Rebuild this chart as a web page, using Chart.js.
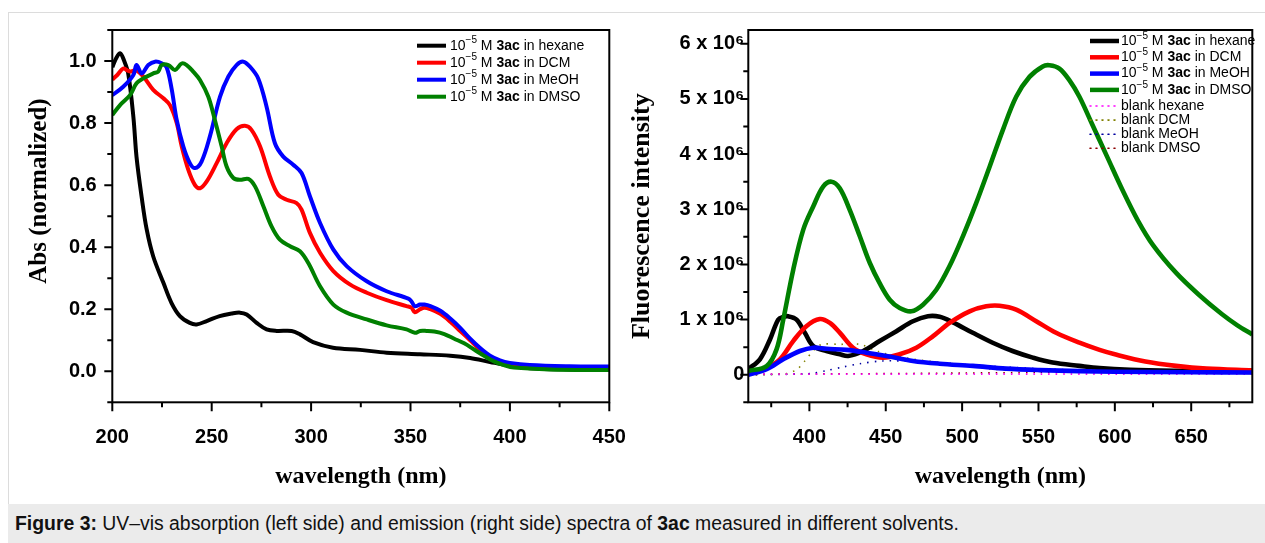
<!DOCTYPE html>
<html><head><meta charset="utf-8">
<script src="https://cdn.jsdelivr.net/npm/chart.js@4/dist/chart.umd.min.js"></script>
<style>
html,body{margin:0;padding:0;background:#fff;width:1265px;height:543px;overflow:hidden;font-family:"Liberation Sans",Arial,sans-serif;}
#frame{position:absolute;left:8px;top:12px;width:1270px;height:540px;border-left:1px solid #dcdcdc;border-top:1px solid #dcdcdc;}
#cap{position:absolute;left:8px;top:504px;width:1265px;height:39px;background:#ebebeb;}
#capText{position:absolute;left:15px;top:511px;font-size:19.4px;line-height:24px;color:#111;white-space:nowrap;font-family:"Liberation Sans",Arial,sans-serif;}
#cLeft{position:absolute;left:0;top:0;}
#cRight{position:absolute;left:620px;top:0;}
</style>
</head><body>
<div id="frame"></div>
<div id="cap"></div>
<div id="capText"><b>Figure 3:</b> UV–vis absorption (left side) and emission (right side) spectra of <b>3ac</b> measured in different solvents.</div>
<canvas id="cLeft" width="640" height="505"></canvas>
<canvas id="cRight" width="645" height="505"></canvas>
<script>
// ---------- data ----------
const solvents = ['hexane', 'DCM', 'MeOH', 'DMSO'];
const solventColors = ['#000000', '#ff0000', '#0000ff', '#008000'];
const blankColors = ['#ff00ff', '#808000', '#0000a0', '#8b0000'];

// Absorption (normalized)
const absWlHexane = [200,202,204,206,208,210.6,212.2,214.8,217.3,220.6,225.7,229.8,234,239,242.4,247.5,254,260,264.2,267.6,272.6,277.6,282.7,290.2,294.4,301,311,324.6,338,354.8,370,380,390,400,410,430,450];
const absHexane   = [0.98,1.01,1.025,1.0,0.96,0.82,0.69,0.56,0.457,0.37,0.285,0.22,0.178,0.156,0.151,0.162,0.178,0.186,0.189,0.183,0.156,0.135,0.13,0.13,0.119,0.094,0.076,0.069,0.06,0.055,0.05,0.043,0.03,0.018,0.01,0.006,0.005];

const absWlDCM = [200,202.5,205.5,207.5,209,212,215.6,220.6,225.7,229,232.4,234.9,238.2,241.6,244.1,247.5,252.5,257.5,262.5,266.7,270,274.3,279.3,283.5,287.7,292.7,295.2,299.4,304.5,311.2,319.5,328,338,348,350.5,352.2,354.8,357,360,365,370,375,380,385,390,395,400,410,430,450];
const absDCM   = [0.94,0.955,0.976,0.97,0.966,0.97,0.95,0.907,0.88,0.858,0.8,0.725,0.65,0.6,0.59,0.612,0.671,0.735,0.78,0.791,0.778,0.725,0.628,0.569,0.553,0.542,0.521,0.446,0.382,0.323,0.28,0.253,0.229,0.21,0.205,0.19,0.2,0.205,0.2,0.185,0.16,0.13,0.1,0.07,0.045,0.03,0.02,0.012,0.01,0.008];

const absWlMeOH = [200,205.5,210.6,212.2,214.8,218.1,221.5,224.8,227.3,229.8,232.4,235.7,239,241.6,244.9,249.1,254.2,258.4,262.5,265.9,269.2,273.4,277.6,281.8,286,291,295.2,299.4,304.5,311.2,317.9,328,338,348.9,350.5,352.2,354.8,357,360,365,370,375,380,385,390,395,400,410,430,450];
const absMeOH   = [0.89,0.917,0.955,0.987,0.96,0.987,0.998,0.993,0.98,0.912,0.81,0.725,0.671,0.655,0.676,0.757,0.885,0.95,0.987,0.998,0.982,0.944,0.853,0.735,0.692,0.666,0.639,0.564,0.478,0.392,0.339,0.29,0.258,0.234,0.225,0.21,0.215,0.215,0.21,0.195,0.17,0.14,0.105,0.075,0.05,0.035,0.027,0.02,0.016,0.015];

const absWlDMSO = [200,203.9,208.9,212.2,215.6,220.6,223.1,224.8,228.2,231.5,234.9,237.4,240.7,244.1,248.3,251.6,255,257.5,260.9,264.2,268.4,271.8,276,280.1,284.3,289.4,294.4,298.6,304.5,311.2,317.9,328,338,348,352.2,354.8,358,362,367,372,377,382,387,392,397,402,420,450];
const absDMSO   = [0.826,0.858,0.89,0.928,0.944,0.96,0.966,0.987,0.987,0.971,0.992,0.987,0.966,0.939,0.885,0.81,0.725,0.66,0.623,0.617,0.62,0.596,0.532,0.467,0.424,0.403,0.387,0.349,0.274,0.215,0.189,0.167,0.148,0.135,0.124,0.13,0.13,0.128,0.12,0.105,0.09,0.07,0.05,0.032,0.02,0.012,0.006,0.004];

// Emission (intensity in units of 10^6)
const emWlHexane = [360,367.6,374.2,379.6,383,386.1,391.6,397,402.5,411.2,419.9,425.4,435.2,446,457,467.8,477.6,485.3,494,507,520,533,546.3,559.3,576.8,590,610,640,690];
const emHexane   = [0.1,0.28,0.64,1.0,1.05,1.06,1.0,0.76,0.52,0.43,0.37,0.34,0.43,0.61,0.79,0.97,1.06,1.05,0.95,0.76,0.58,0.43,0.31,0.22,0.16,0.12,0.09,0.07,0.05];

const emWlDCM = [360,372,380.7,389.4,398,406.8,413.4,420,428.6,437.3,448.2,459.1,470,481,491.8,504.9,515.8,524.5,535.4,548.5,561.5,576.8,590,600,620,640,660,690];
const emDCM   = [0.04,0.13,0.28,0.61,0.88,1.01,0.94,0.76,0.49,0.37,0.31,0.37,0.49,0.7,0.94,1.15,1.24,1.25,1.18,0.97,0.76,0.58,0.45,0.37,0.24,0.16,0.11,0.08];

const emWlMeOH = [360,372,382.9,393.8,402.5,411.2,424.3,437.3,450.4,467.8,485.3,507,528.8,550.6,576.8,600,650,690];
const emMeOH   = [0.0,0.1,0.28,0.43,0.49,0.47,0.45,0.4,0.34,0.25,0.2,0.16,0.11,0.084,0.066,0.055,0.045,0.04];

const emWlDMSO = [360,372,378.5,382.9,389.4,396,402.5,409,414.5,419.9,426.4,433,439.5,446,452.6,459.1,466.8,474.4,483.1,491.8,500.5,509.2,518,526.7,535.4,544.1,552.8,557.2,563.7,570.2,576.8,585,595,605,615,625,640,655,670,680,690];
const emDMSO   = [0.066,0.157,0.46,1.0,1.9,2.63,3.05,3.41,3.5,3.38,2.99,2.51,2.03,1.66,1.36,1.21,1.15,1.27,1.54,1.97,2.51,3.11,3.77,4.44,5.04,5.4,5.59,5.61,5.55,5.34,5.04,4.55,3.95,3.35,2.8,2.35,1.85,1.45,1.1,0.9,0.73];

const blankWlHexane = [360,450,550,690];
const blankHexane   = [0.01,0.01,0.01,0.01];
const blankWlDCM = [360,385,392,397,403,408,420,433,445,460,480,500,520,560,600,690];
const blankDCM   = [0.0,0.02,0.1,0.25,0.45,0.55,0.55,0.55,0.42,0.32,0.24,0.18,0.1,0.07,0.05,0.04];
const blankWlMeOH = [360,400,412,422,433,448,470,485,510,550,600,690];
const blankMeOH   = [0.0,0.02,0.08,0.14,0.2,0.25,0.24,0.22,0.17,0.11,0.07,0.04];
const blankWlDMSO = [360,380,450,500,550,600,690];
const blankDMSO   = [0.0,0.01,0.02,0.03,0.04,0.04,0.04];

// Axes ticks
const absXMajor = [200,250,300,350,400,450];
const absXMinor = [225,275,325,375,425];
const absYMajor = [0.0,0.2,0.4,0.6,0.8,1.0];
const absYMinor = [-0.1,0.1,0.3,0.5,0.7,0.9,1.1];
const emXMajor = [400,450,500,550,600,650];
const emXMinor = [375,425,475,525,575,625,675];
const emYMajor = [0,1,2,3,4,5,6];
const emYMinor = [-0.5,0.5,1.5,2.5,3.5,4.5,5.5];

// ---------- helpers ----------
const pts = (xs, ys) => xs.map((x, i) => ({x: x, y: ys[i]}));
const SANS = '"Liberation Sans", Arial, sans-serif';
const SERIF = '"Liberation Serif", "Times New Roman", serif';

const frameTicks = {
  id: 'frameTicks',
  afterDraw(chart, args, o) {
    const {ctx, chartArea: {left, top, right, bottom}, scales: {x, y}} = chart;
    ctx.save();
    ctx.strokeStyle = '#000';
    ctx.lineWidth = 2;
    ctx.strokeRect(left, top, right - left, bottom - top);
    ctx.beginPath();
    o.xMajor.forEach(v => { const p = x.getPixelForValue(v); ctx.moveTo(p, bottom); ctx.lineTo(p, bottom + 9); });
    o.xMinor.forEach(v => { const p = x.getPixelForValue(v); ctx.moveTo(p, bottom); ctx.lineTo(p, bottom + 5); });
    o.yMajor.forEach(v => { const p = y.getPixelForValue(v); ctx.moveTo(left, p); ctx.lineTo(left - 8, p); });
    o.yMinor.forEach(v => { const p = y.getPixelForValue(v); ctx.moveTo(left, p); ctx.lineTo(left - 5, p); });
    ctx.stroke();
    if (o.vTitle) {
      ctx.translate(o.vTitle.x, o.vTitle.y);
      ctx.rotate(-Math.PI / 2);
      ctx.font = o.vTitle.font;
      ctx.fillStyle = '#000';
      ctx.textAlign = 'center';
      ctx.textBaseline = 'middle';
      ctx.fillText(o.vTitle.text, 0, 0);
    }
    ctx.restore();
  }
};

function richText(ctx, x, y, parts) {
  parts.forEach(p => {
    ctx.font = p.font;
    ctx.fillText(p.t, x, y + (p.dy || 0));
    x += ctx.measureText(p.t).width;
  });
}

const richLegend = {
  id: 'richLegend',
  afterDraw(chart, args, o) {
    const ctx = chart.ctx;
    ctx.save();
    ctx.textBaseline = 'middle';
    ctx.fillStyle = '#000';
    o.items.forEach(it => {
      ctx.beginPath();
      ctx.strokeStyle = it.color;
      ctx.lineWidth = it.width;
      ctx.setLineDash(it.dash || []);
      ctx.lineCap = it.dash ? 'round' : 'butt';
      ctx.moveTo(o.x0, it.y); ctx.lineTo(o.x1, it.y);
      ctx.stroke();
      ctx.setLineDash([]);
      const f = o.size + 'px ' + SANS;
      let parts;
      if (it.blank) {
        parts = [{t: 'blank ' + it.solvent, font: f}];
      } else {
        parts = [
          {t: '10', font: f},
          {t: '\u22125', font: Math.round(o.size * 0.68) + 'px ' + SANS, dy: -5},
          {t: ' M ', font: f},
          {t: '3ac', font: 'bold ' + f},
          {t: ' in ' + it.solvent, font: f}
        ];
      }
      richText(ctx, o.tx, it.y, parts);
    });
    ctx.restore();
  }
};

function lineDs(label, data, color, order, width) {
  return {label, data, borderColor: color, backgroundColor: color, borderWidth: width,
    pointRadius: 0, tension: 0.35, fill: false, order};
}
function blankDs(label, data, color) {
  return {label, data, borderColor: color, backgroundColor: color, borderWidth: 1.6,
    borderDash: [1.5, 6], pointRadius: 0, tension: 0.3, fill: false, order: 10};
}

function axisCommon(min, max, ticks, fmt, pad) {
  return {
    type: 'linear', min, max,
    afterBuildTicks: s => { s.ticks = ticks.map(v => ({value: v})); },
    ticks: {color: '#000', font: {family: SANS, weight: 'bold', size: 20}, padding: pad,
      maxRotation: 0, autoSkip: false, callback: fmt},
    grid: {display: false, drawTicks: false},
    border: {display: false}
  };
}

Chart.defaults.animation = false;

// ---------- left chart ----------
const absData = [
  pts(absWlHexane, absHexane), pts(absWlDCM, absDCM), pts(absWlMeOH, absMeOH), pts(absWlDMSO, absDMSO)
];
const leftX = axisCommon(200, 450, absXMajor, v => String(v), 23);
leftX.title = {display: true, text: 'wavelength (nm)', color: '#000', font: {family: SERIF, weight: 'bold', size: 24}, padding: {top: 0, bottom: 13.6}};
leftX.afterFit = s => { s.height = 102.7; s.paddingLeft = 0; s.paddingRight = 0; };
const leftY = axisCommon(-0.1, 1.1, absYMajor, v => v.toFixed(1), 15.6);
leftY.title = {display: false, text: 'Abs (normalized)'};
leftY.afterFit = s => { s.width = 112.3; s.paddingTop = 0; s.paddingBottom = 0; };

new Chart(document.getElementById('cLeft'), {
  type: 'line',
  data: {datasets: solvents.map((s, i) => lineDs('10\u207B\u2075 M 3ac in ' + s, absData[i], solventColors[i], [3, 2, 1, 0][i], 4))},
  options: {
    responsive: false, animation: false,
    layout: {padding: {left: 0, top: 30, right: 30.7, bottom: 0}},
    scales: {x: leftX, y: leftY},
    plugins: {
      legend: {display: false}, tooltip: {enabled: false},
      frameTicks: {xMajor: absXMajor, xMinor: absXMinor, yMajor: absYMajor, yMinor: absYMinor,
        vTitle: {text: 'Abs (normalized)', x: 40, y: 191, font: 'bold 25px ' + SERIF}},
      richLegend: {x0: 417, x1: 446, tx: 450, size: 14,
        items: solvents.map((s, i) => ({solvent: s, color: solventColors[i], width: 4, y: 45.7 + 17 * i}))}
    }
  },
  plugins: [frameTicks, richLegend]
});

// ---------- right chart ----------
const emData = [
  pts(emWlHexane, emHexane), pts(emWlDCM, emDCM), pts(emWlMeOH, emMeOH), pts(emWlDMSO, emDMSO)
];
const blankData = [
  pts(blankWlHexane, blankHexane), pts(blankWlDCM, blankDCM), pts(blankWlMeOH, blankMeOH), pts(blankWlDMSO, blankDMSO)
];
const rightX = axisCommon(360, 690, emXMajor, v => String(v), 23);
rightX.title = {display: true, text: 'wavelength (nm)', color: '#000', font: {family: SERIF, weight: 'bold', size: 24}, padding: {top: 0, bottom: 13.6}};
rightX.afterFit = s => { s.height = 102.7; s.paddingLeft = 0; s.paddingRight = 0; };
const rightY = axisCommon(-0.5, 6.25, emYMajor, v => (v === 0 ? '0' : v + ' x 10\u2076'), 4);
rightY.title = {display: true, text: 'Fluorescence intensity', color: '#000', font: {family: SERIF, weight: 'bold', size: 26}, padding: {top: 6.4, bottom: 0}};
rightY.afterFit = s => { s.width = 128.3; s.paddingTop = 0; s.paddingBottom = 0; };

const rightDatasets = solvents.map((s, i) => lineDs('10\u207B\u2075 M 3ac in ' + s, emData[i], solventColors[i], [3, 2, 1, 0][i], 4.6))
  .concat(solvents.map((s, i) => blankDs('blank ' + s, blankData[i], blankColors[i])));

new Chart(document.getElementById('cRight'), {
  type: 'line',
  data: {datasets: rightDatasets},
  options: {
    responsive: false, animation: false,
    layout: {padding: {left: 0, top: 30, right: 12.7, bottom: 0}},
    scales: {x: rightX, y: rightY},
    plugins: {
      legend: {display: false}, tooltip: {enabled: false},
      frameTicks: {xMajor: emXMajor, xMinor: emXMinor, yMajor: emYMajor, yMinor: emYMinor},
      richLegend: {x0: 470, x1: 499, tx: 501, size: 14,
        items: solvents.map((s, i) => ({solvent: s, color: solventColors[i], width: 4.5, y: 41 + 16.3 * i}))
          .concat(solvents.map((s, i) => ({solvent: s, blank: true, color: blankColors[i], width: 1.6, dash: [1, 5], y: 106 + 14.1 * i})))}
    }
  },
  plugins: [frameTicks, richLegend]
});
</script>
</body></html>
